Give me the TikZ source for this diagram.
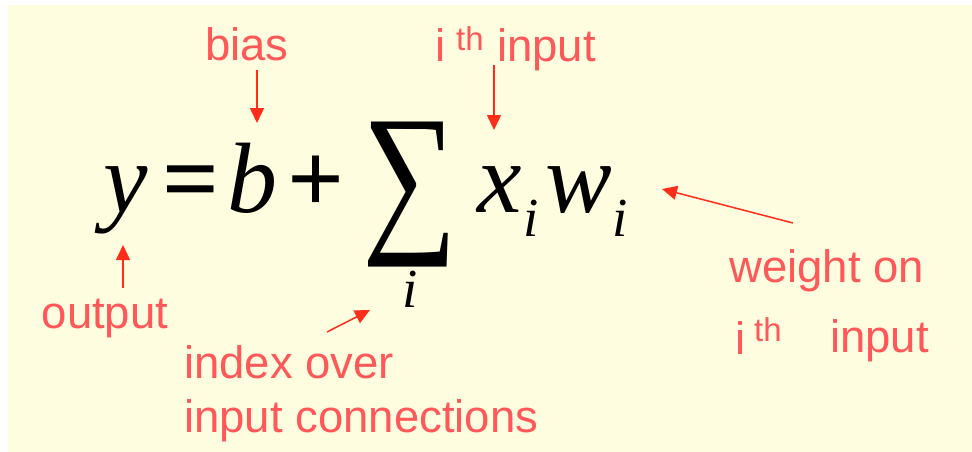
\documentclass[tikz,border=0pt]{standalone}
\usepackage{fontspec}
\usepackage{graphicx}
\usetikzlibrary{arrows.meta}
\newfontfamily\eqfont{Liberation Serif}
\newfontfamily\lblfont{Liberation Sans}
\definecolor{slidebg}{RGB}{255,253,224}
\definecolor{lblred}{RGB}{255,88,88}
\definecolor{arrred}{RGB}{255,45,25}
\tikzset{
  nn sym/.style={inner sep=0pt,anchor=base,font=\eqfont\fontsize{100}{100}\selectfont},
  nn op/.style={nn sym,font=\eqfont\bfseries\fontsize{100}{100}\selectfont},
  nn var/.style={nn sym,font=\eqfont\itshape\fontsize{100}{100}\selectfont},
  nn sub/.style={nn sym,font=\eqfont\itshape\fontsize{55}{55}\selectfont},
  nn label/.style={inner sep=0pt,anchor=base west,text=lblred,
    font=\lblfont\fontsize{45.5}{54}\selectfont},
  nn th/.style={nn label,font=\lblfont\fontsize{33}{33}\selectfont},
  nn arrow/.style={draw=arrred,line width=1.5pt,-{Triangle[width=14pt,length=15pt]}}
}

\begin{document}
\begin{tikzpicture}[x=1pt,y=-1pt]
  \useasboundingbox (0,0) rectangle (972,452);
  \fill[slidebg] (8,5) rectangle (972,452);
  % the equation
  \node[nn var] (y) at (126,212) {y};
  \node[nn op] (eq) at (191,212) {=};
  \node[nn var] (b) at (252,212) {b};
  \node[nn op] (plus) at (316,212) {+};
  \node[inner sep=0pt] (sum) at (410,195) {\resizebox*{95pt}{145pt}{\eqfont ∑}};
  \node[nn sub] (sumidx) at (410,307) {i};
  \node[nn var] (x) at (500,212) {x};
  \node[nn sub] (xidx) at (531,236) {i};
  \node[nn var] (w) at (579,212) {w};
  \node[nn sub] (widx) at (620,236) {i};
  % labels
  \node[nn label,anchor=base] (bias) at (247,60) {bias};
  \node[nn label] (ithi) at (435,62) {i};
  \node[nn th] (ithth) at (456,51) {th};
  \node[nn label] (ithin) at (497,62) {input};
  \node[nn label,anchor=base] (output) at (105,328) {output};
  \node[nn label,align=left] (index) at (184,432) {index over\\input connections};
  \node[nn label] (weight) at (729,282) {weight on};
  \node[nn label] (wti) at (735,354) {i};
  \node[nn th] (wtth) at (754,341) {th};
  \node[nn label] (wtin) at (830,352) {input};
  % arrows
  \coordinate (biastail) at (257,70);   \coordinate (biashead) at (257,123);
  \coordinate (ithtail) at (494,65);    \coordinate (ithhead) at (494,130);
  \coordinate (outtail) at (123,288);   \coordinate (outhead) at (123,245);
  \coordinate (idxtail) at (327,332);   \coordinate (idxhead) at (370,310);
  \coordinate (wttail) at (793,223);    \coordinate (wthead) at (662,189);
  \draw[nn arrow] (biastail) -- (biashead);
  \draw[nn arrow] (ithtail) -- (ithhead);
  \draw[nn arrow] (outtail) -- (outhead);
  \draw[nn arrow] (idxtail) -- (idxhead);
  \draw[nn arrow] (wttail) -- (wthead);
\end{tikzpicture}
\end{document}
